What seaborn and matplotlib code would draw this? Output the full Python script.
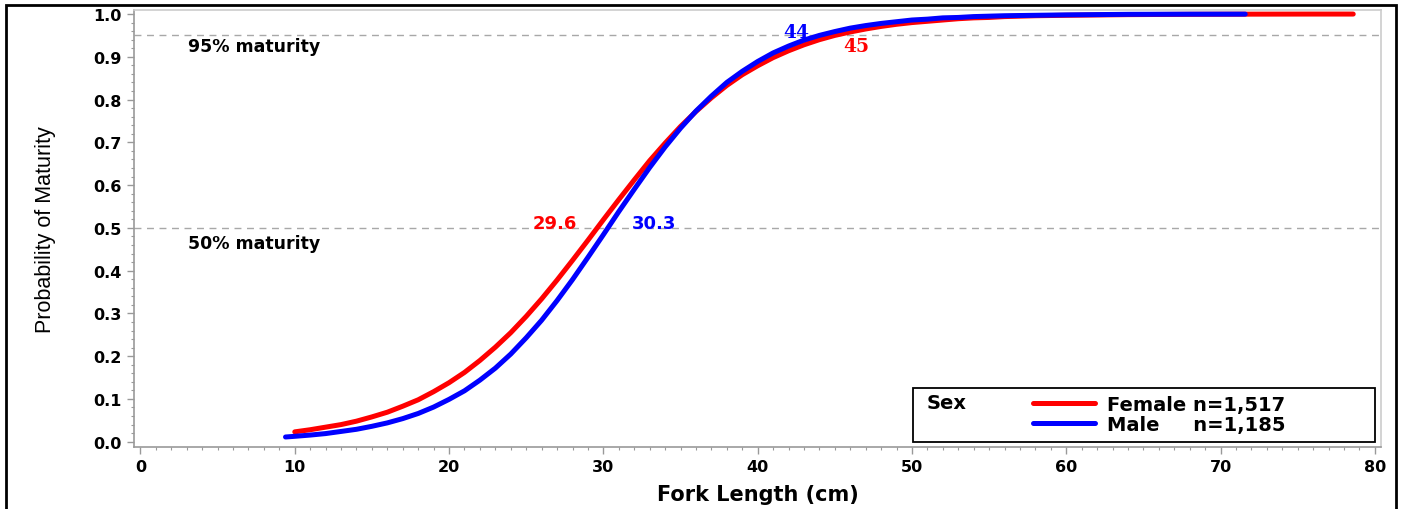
import numpy as np
import pandas as pd
import seaborn as sns
import matplotlib.pyplot as plt
from matplotlib.patches import Rectangle
from matplotlib.ticker import MultipleLocator, FormatStrFormatter

# 곡선 값
female_len = [10, 11, 12, 13, 14, 15, 16, 17, 18, 19, 20, 21, 22, 23, 24, 25, 26, 27, 28, 29,
              30, 31, 32, 33, 34, 35, 36, 37, 38, 39, 40, 41, 42, 43, 44, 45, 46, 47, 48, 49,
              50, 51, 52, 53, 54, 55, 56, 58, 60, 64, 68, 72, 76, 78.6]
female_prob = [0.023, 0.028, 0.034, 0.040, 0.048, 0.058, 0.069, 0.083, 0.098, 0.117, 0.138,
               0.162, 0.190, 0.221, 0.255, 0.293, 0.334, 0.378, 0.424, 0.471, 0.519, 0.566,
               0.612, 0.657, 0.698, 0.737, 0.772, 0.804, 0.833, 0.858, 0.879, 0.898, 0.914,
               0.928, 0.940, 0.950, 0.958, 0.965, 0.971, 0.976, 0.980, 0.983, 0.986, 0.989,
               0.991, 0.992, 0.994, 0.996, 0.997, 0.9986, 0.9993, 0.9997, 0.9999, 0.9999]
male_len = [9.4, 10, 11, 12, 13, 14, 15, 16, 17, 18, 19, 20, 21, 22, 23, 24, 25, 26, 27, 28,
            29, 30, 31, 32, 33, 34, 35, 36, 37, 38, 39, 40, 41, 42, 43, 44, 45, 46, 47, 48,
            49, 50, 51, 52, 53, 54, 55, 56, 58, 60, 64, 68, 71.6]
male_prob = [0.011, 0.0126, 0.0155, 0.019, 0.024, 0.029, 0.036, 0.044, 0.054, 0.066, 0.081,
             0.099, 0.119, 0.144, 0.172, 0.205, 0.243, 0.284, 0.330, 0.379, 0.431, 0.484,
             0.538, 0.590, 0.641, 0.689, 0.733, 0.773, 0.808, 0.840, 0.866, 0.889, 0.909,
             0.925, 0.939, 0.950, 0.959, 0.967, 0.973, 0.978, 0.982, 0.986, 0.988, 0.991,
             0.992, 0.994, 0.995, 0.996, 0.997, 0.998, 0.9993, 0.9997, 0.9998]

sexes = ['Female', 'Male']
sex_n = ['n=1,517', 'n=1,185']
l50 = [29.6, 30.3]
l95 = [45, 44]
colors = {'Female': '#ff0000', 'Male': '#0000ff'}

df = pd.concat([
    pd.DataFrame({'length': female_len, 'prob': female_prob, 'Sex': 'Female'}),
    pd.DataFrame({'length': male_len, 'prob': male_prob, 'Sex': 'Male'}),
])

sns.set_style('white')
plt.rcParams['font.family'] = ['DejaVu Sans']
plt.rcParams['font.weight'] = 'bold'
plt.rcParams['text.color'] = 'black'
plt.rcParams['axes.labelcolor'] = 'black'
plt.rcParams['xtick.labelcolor'] = 'black'
plt.rcParams['ytick.labelcolor'] = 'black'

fig = plt.figure(figsize=(14.04, 5.10), dpi=100)
ax = fig.add_axes([0.09544, 0.12157, 0.88818, 0.85686])

sns.lineplot(data=df, x='length', y='prob', hue='Sex', hue_order=sexes,
             palette=colors, linewidth=3.6, estimator=None, legend=False, ax=ax)

# 기준선
for p in [0.5, 0.95]:
    ax.axhline(p, color='#a8a8a8', lw=1, ls=(0, (5, 4)), zorder=0)
ax.text(3.07, 0.925, '95% maturity', fontsize=12.5, fontweight='bold', va='center')
ax.text(3.07, 0.464, '50% maturity', fontsize=12.5, fontweight='bold', va='center')

# 50%, 95% 길이 표시
ax.text(26.86, 0.511, f'{l50[0]}', color=colors['Female'], fontsize=13,
        fontweight='bold', ha='center', va='center')
ax.text(33.3, 0.511, f'{l50[1]}', color=colors['Male'], fontsize=13,
        fontweight='bold', ha='center', va='center')
ax.text(42.5, 0.958, f'{l95[1]}', color=colors['Male'], fontsize=13.5,
        fontweight='bold', ha='center', va='center', family=['DejaVu Serif'])
ax.text(46.4, 0.926, f'{l95[0]}', color=colors['Female'], fontsize=13.5,
        fontweight='bold', ha='center', va='center', family=['DejaVu Serif'])

ax.set_xlim(-0.42, 80.4)
ax.set_ylim(-0.0124, 1.0094)
ax.xaxis.set_major_locator(MultipleLocator(10))
ax.xaxis.set_minor_locator(MultipleLocator(1))
ax.yaxis.set_major_locator(MultipleLocator(0.1))
ax.yaxis.set_minor_locator(MultipleLocator(0.02))
ax.yaxis.set_major_formatter(FormatStrFormatter('%.1f'))
ax.tick_params(which='both', direction='out', color='#999999', labelsize=11.5,
               bottom=True, left=True)
ax.tick_params(which='major', length=5, width=1, pad=4)
ax.tick_params(which='minor', length=2.5, width=0.8)
for lab in ax.get_xticklabels() + ax.get_yticklabels():
    lab.set_fontweight('bold')

for s in ['left', 'bottom']:
    ax.spines[s].set_color('#999999')
    ax.spines[s].set_linewidth(1.2)
for s in ['top', 'right']:
    ax.spines[s].set_color('#cccccc')
    ax.spines[s].set_linewidth(1.2)

ax.set_xlabel('Fork Length (cm)', fontsize=15, fontweight='bold', labelpad=7)
ax.set_ylabel('Probability of Maturity', fontsize=15.5, fontweight='normal', labelpad=27,
              family=['Liberation Sans Narrow', 'Liberation Sans', 'DejaVu Sans'])

# 범례
handles = ax.lines[:2]
labels = [f'Female {sex_n[0]}', f'Male     {sex_n[1]}']
ax.legend(handles, labels, loc='center left', bbox_to_anchor=(0.721, 0.0754),
          frameon=False, handlelength=3.19, handletextpad=0.62,
          labelspacing=0.05, borderpad=0, borderaxespad=0,
          prop={'weight': 'bold', 'size': 14})
ax.add_patch(Rectangle((0.625, 0.0114), 0.37, 0.1236, transform=ax.transAxes,
                       fill=False, ec='black', lw=1.3, zorder=5))
ax.text(0.636, 0.1007, 'Sex', transform=ax.transAxes, fontsize=14,
        fontweight='bold', va='center', ha='left')

# 바깥 테두리
fig.patches.append(Rectangle((6 / 1404, -0.02), 1390 / 1404, 1.02 - 6 / 510,
                             transform=fig.transFigure, fill=False, ec='black', lw=2))

fig.savefig('out.png', dpi=100)
